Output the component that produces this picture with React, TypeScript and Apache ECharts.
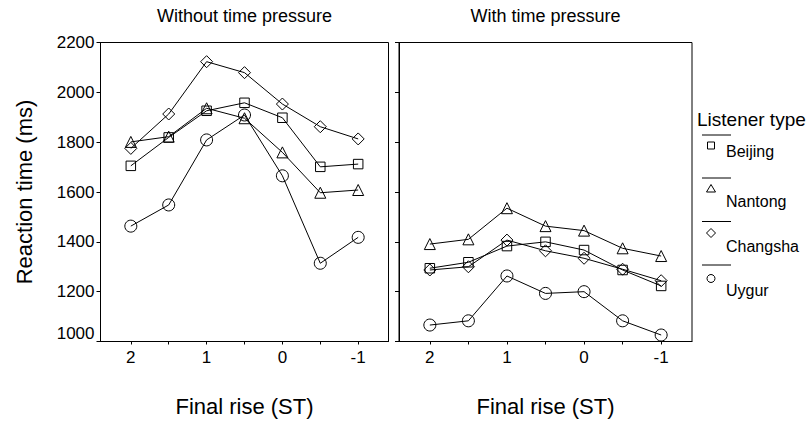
import React, { useEffect, useRef } from "react";
import * as echarts from "echarts";

const xValues = [2, 1.5, 1, 0.5, 0, -0.5, -1];
const xLabelValues = [2, 1, 0, -1];
const panelTitles = ["Without time pressure", "With time pressure"];
const listenerTypes = ["Beijing", "Nantong", "Changsha", "Uygur"];

const beijingNoPressure = [1705, 1819, 1926, 1958, 1898, 1701, 1712];
const nantongNoPressure = [1801, 1822, 1936, 1896, 1759, 1597, 1608];
const changshaNoPressure = [1775, 1913, 2123, 2079, 1953, 1862, 1813];
const uygurNoPressure = [1463, 1548, 1809, 1909, 1665, 1314, 1418];

const beijingPressure = [1294, 1318, 1383, 1400, 1367, 1287, 1223];
const nantongPressure = [1391, 1410, 1535, 1463, 1445, 1374, 1343];
const changshaPressure = [1287, 1300, 1407, 1364, 1334, 1290, 1244];
const uygurPressure = [1066, 1083, 1263, 1193, 1200, 1083, 1026];

const FONT = "'Liberation Sans', Arial, Helvetica, sans-serif";

export default function App() {
  const ref = useRef<HTMLDivElement>(null);
  useEffect(() => {
    document.body.style.margin = "0";
    if (!ref.current) return;
    const chart = echarts.init(ref.current, undefined, { renderer: "svg" });

    const symbols = ["rect", "triangle", "diamond", "circle"];
    const sizes = [9.5, 11, 12, 12];
    const noP = [beijingNoPressure, nantongNoPressure, changshaNoPressure, uygurNoPressure];
    const withP = [beijingPressure, nantongPressure, changshaPressure, uygurPressure];

    const mkSeries = (vals: number[][], idx: number) =>
      vals.map((arr, i) => ({
        name: listenerTypes[i],
        type: "line",
        xAxisIndex: idx,
        yAxisIndex: idx,
        data: xValues.map((x, j) => [x, arr[j]]),
        symbol: symbols[i],
        symbolSize: sizes[i],
        lineStyle: { color: "#000", width: 1 },
        itemStyle: { color: "rgba(255,255,255,0)", borderColor: "#000", borderWidth: 1 },
        emphasis: { disabled: true },
        silent: true,
        z: 3,
      }));

    const grids = [
      { left: 100.5, top: 42.5, width: 288, height: 299 },
      { left: 399, top: 42.5, width: 293, height: 299 },
    ];

    const xAxis = grids.map((_, i) => ({
      type: "value",
      gridIndex: i,
      inverse: true,
      min: -1.4,
      max: 2.4,
      name: "Final rise (ST)",
      nameLocation: "middle",
      nameGap: 54,
      nameTextStyle: { fontSize: 22, color: "#000", fontFamily: FONT },
      axisLine: { show: true, onZero: false, lineStyle: { color: "#000", width: 1 } },
      axisTick: { show: true, length: 3, customValues: xValues, lineStyle: { color: "#000" } },
      axisLabel: {
        show: true,
        customValues: xLabelValues,
        fontSize: 17,
        color: "#000",
        fontFamily: FONT,
        margin: 7,
        formatter: (v: number) => String(v),
      },
      splitLine: { show: false },
    }));

    const yAxis = grids.map((_, i) => ({
      type: "value",
      gridIndex: i,
      min: 1000,
      max: 2200,
      interval: 200,
      name: i === 0 ? "Reaction time (ms)" : "",
      nameLocation: "middle",
      nameGap: 65,
      nameRotate: 90,
      nameTextStyle: { fontSize: 22, color: "#000", fontFamily: FONT },
      axisLine: { show: true, onZero: false, lineStyle: { color: "#000", width: 1 } },
      axisTick: { show: true, length: 4, lineStyle: { color: "#000" } },
      axisLabel: {
        show: i === 0,
        fontSize: 17,
        color: "#000",
        fontFamily: FONT,
        margin: 6,
        verticalAlignMinLabel: "bottom",
        formatter: (v: number) => String(v),
      },
      splitLine: { show: false },
    }));

    const lx1 = 702;
    const lx2 = 731;
    const sx = 711;
    const tx = 726;
    const lineYs = [135, 178, 221.5, 265];
    const symYs = [145.5, 188.5, 233, 278.5];
    const textYs = [151, 201, 246, 290];
    const legendEls: any[] = [
      {
        type: "text",
        x: 697,
        y: 119,
        style: {
          text: "Listener type",
          font: `19px ${FONT}`,
          fill: "#000",
          align: "left",
          verticalAlign: "middle",
          textAlign: "left",
          textVerticalAlign: "middle",
        },
      },
    ];
    listenerTypes.forEach((name, i) => {
      legendEls.push({
        type: "line",
        shape: { x1: lx1, y1: lineYs[i], x2: lx2, y2: lineYs[i] },
        style: { stroke: "#000", lineWidth: 1 },
      });
      const sy = symYs[i];
      const st = { stroke: "#000", lineWidth: 1, fill: "none" };
      if (i === 0) legendEls.push({ type: "rect", shape: { x: sx - 3.5, y: sy - 3.5, width: 7, height: 7 }, style: st });
      if (i === 1)
        legendEls.push({
          type: "polygon",
          shape: { points: [[sx, sy - 4], [sx + 4.5, sy + 3.5], [sx - 4.5, sy + 3.5]] },
          style: st,
        });
      if (i === 2)
        legendEls.push({
          type: "polygon",
          shape: { points: [[sx, sy - 4.5], [sx + 4.5, sy], [sx, sy + 4.5], [sx - 4.5, sy]] },
          style: st,
        });
      if (i === 3) legendEls.push({ type: "circle", shape: { cx: sx, cy: sy, r: 4 }, style: st });
      legendEls.push({
        type: "text",
        x: tx,
        y: textYs[i],
        style: {
          text: name,
          font: `16px ${FONT}`,
          fill: "#000",
          align: "left",
          verticalAlign: "middle",
          textAlign: "left",
          textVerticalAlign: "middle",
        },
      });
    });

    chart.setOption({
      animation: false,
      backgroundColor: "#fff",
      title: panelTitles.map((t, i) => ({
        text: t,
        left: grids[i].left + grids[i].width / 2,
        top: 7,
        textAlign: "center",
        padding: 0,
        textStyle: { fontSize: 18, fontWeight: "normal", color: "#000", fontFamily: FONT },
      })),
      grid: grids.map((g) => ({ ...g, show: true, borderColor: "#000", borderWidth: 1, backgroundColor: "transparent" })),
      xAxis,
      yAxis,
      series: [...mkSeries(noP, 0), ...mkSeries(withP, 1)],
      graphic: legendEls,
    });

    return () => chart.dispose();
  }, []);
  return <div ref={ref} style={{ width: 810, height: 423 }} />;
}
